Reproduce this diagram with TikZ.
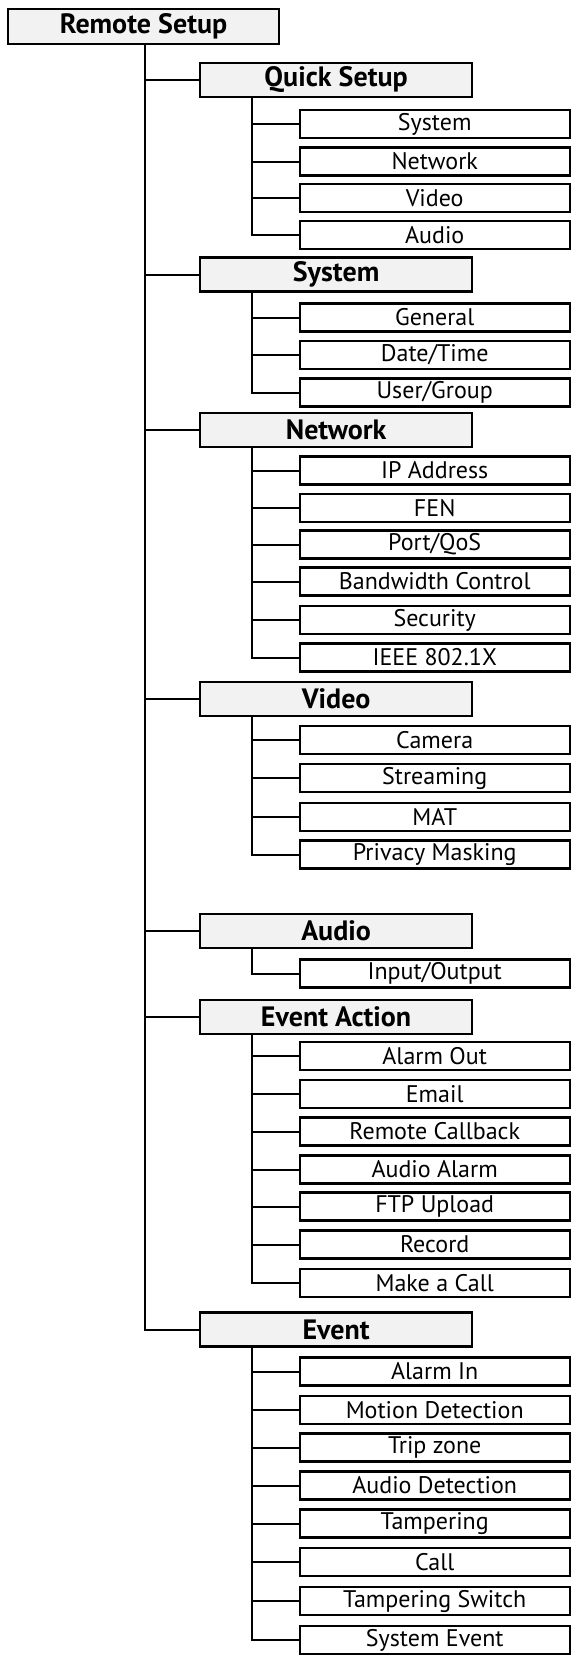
\documentclass[tikz,border=0pt]{standalone}
\usepackage{fontspec}
\setmainfont{PT Sans}
\usetikzlibrary{positioning,calc}

\begin{document}
\begin{tikzpicture}[
    x=0.5pt, y=-0.5pt,
    rootbox/.style={rectangle, draw, fill=black!5, line width=1.1pt, inner sep=0pt, anchor=west,
        minimum width=135.5pt, minimum height=17.5pt, font=\fontsize{14}{16}\selectfont\bfseries},
    menubox/.style={rootbox, minimum width=136pt, minimum height=17pt},
    itembox/.style={rectangle, draw, fill=white, line width=1.1pt, inner sep=0pt, anchor=west,
        minimum width=135pt, minimum height=14pt, font=\fontsize{12}{14}\selectfont},
    link/.style={line width=1pt}
]
    \useasboundingbox (0,0) rectangle (573,1660);

    % root and first level
    \node[rootbox] (remote) at (7,26.5) {Remote Setup};
    \node[menubox] (quick) at (199,80) {Quick Setup};
    \node[menubox] (system) at (199,274.5) {System};
    \node[menubox] (network) at (199,430) {Network};
    \node[menubox] (video) at (199,699) {Video};
    \node[menubox] (audio) at (199,931) {Audio};
    \node[menubox] (action) at (199,1017) {Event Action};
    \node[menubox] (event) at (199,1329.5) {Event};

    % Quick Setup
    \node[itembox] (qs1) at (298.6,124) {System};
    \node[itembox] (qs2) at (298.6,161.5) {Network};
    \node[itembox] (qs3) at (298.6,198) {Video};
    \node[itembox] (qs4) at (298.6,235) {Audio};

    % System
    \node[itembox] (sy1) at (298.6,317.5) {General};
    \node[itembox] (sy2) at (298.6,355) {Date/Time};
    \node[itembox] (sy3) at (298.6,392.5) {User/Group};

    % Network
    \node[itembox] (nw1) at (298.6,470.5) {IP Address};
    \node[itembox] (nw2) at (298.6,508) {FEN};
    \node[itembox] (nw3) at (298.6,544.5) {Port/QoS};
    \node[itembox] (nw4) at (298.6,581.5) {Bandwidth Control};
    \node[itembox] (nw5) at (298.6,620) {Security};
    \node[itembox] (nw6) at (298.6,657.5) {IEEE 802.1X};

    % Video
    \node[itembox] (vd1) at (298.6,740) {Camera};
    \node[itembox] (vd2) at (298.6,778) {Streaming};
    \node[itembox] (vd3) at (298.6,817) {MAT};
    \node[itembox] (vd4) at (298.6,854.5) {Privacy Masking};

    % Audio
    \node[itembox] (au1) at (298.6,973.5) {Input/Output};

    % Event Action
    \node[itembox] (ea1) at (298.6,1056) {Alarm Out};
    \node[itembox] (ea2) at (298.6,1094) {Email};
    \node[itembox] (ea3) at (298.6,1131.5) {Remote Callback};
    \node[itembox] (ea4) at (298.6,1169.5) {Audio Alarm};
    \node[itembox] (ea5) at (298.6,1206.5) {FTP Upload};
    \node[itembox] (ea6) at (298.6,1244.5) {Record};
    \node[itembox] (ea7) at (298.6,1283) {Make a Call};

    % Event
    \node[itembox] (ev1) at (298.6,1371.5) {Alarm In};
    \node[itembox] (ev2) at (298.6,1410) {Motion Detection};
    \node[itembox] (ev3) at (298.6,1447.5) {Trip zone};
    \node[itembox] (ev4) at (298.6,1485.5) {Audio Detection};
    \node[itembox] (ev5) at (298.6,1523.5) {Tampering};
    \node[itembox] (ev6) at (298.6,1562) {Call};
    \node[itembox] (ev7) at (298.6,1601) {Tampering Switch};
    \node[itembox] (ev8) at (298.6,1640) {System Event};

    % main trunk
    \coordinate (trunk) at ([xshift=0.75pt]remote.south);
    \draw[link] (trunk) |- (event.west);
    \foreach \n in {quick,system,network,video,audio,action}
        \draw[link] (trunk |- \n.west) -- (\n.west);

    % sub trunks
    \foreach \g/\last in {quick/qs4,system/sy3,network/nw6,video/vd4,audio/au1,action/ea7,event/ev8}{
        \coordinate (\g bar) at ([xshift=26.25pt]\g.south west);
        \draw[link] (\g bar) |- (\last.west);
    }
    \foreach \g/\n in {quick/qs1,quick/qs2,quick/qs3,system/sy1,system/sy2,
                       network/nw1,network/nw2,network/nw3,network/nw4,network/nw5,
                       video/vd1,video/vd2,video/vd3,
                       action/ea1,action/ea2,action/ea3,action/ea4,action/ea5,action/ea6,
                       event/ev1,event/ev2,event/ev3,event/ev4,event/ev5,event/ev6,event/ev7}
        \draw[link] (\g bar |- \n.west) -- (\n.west);
\end{tikzpicture}
\end{document}
